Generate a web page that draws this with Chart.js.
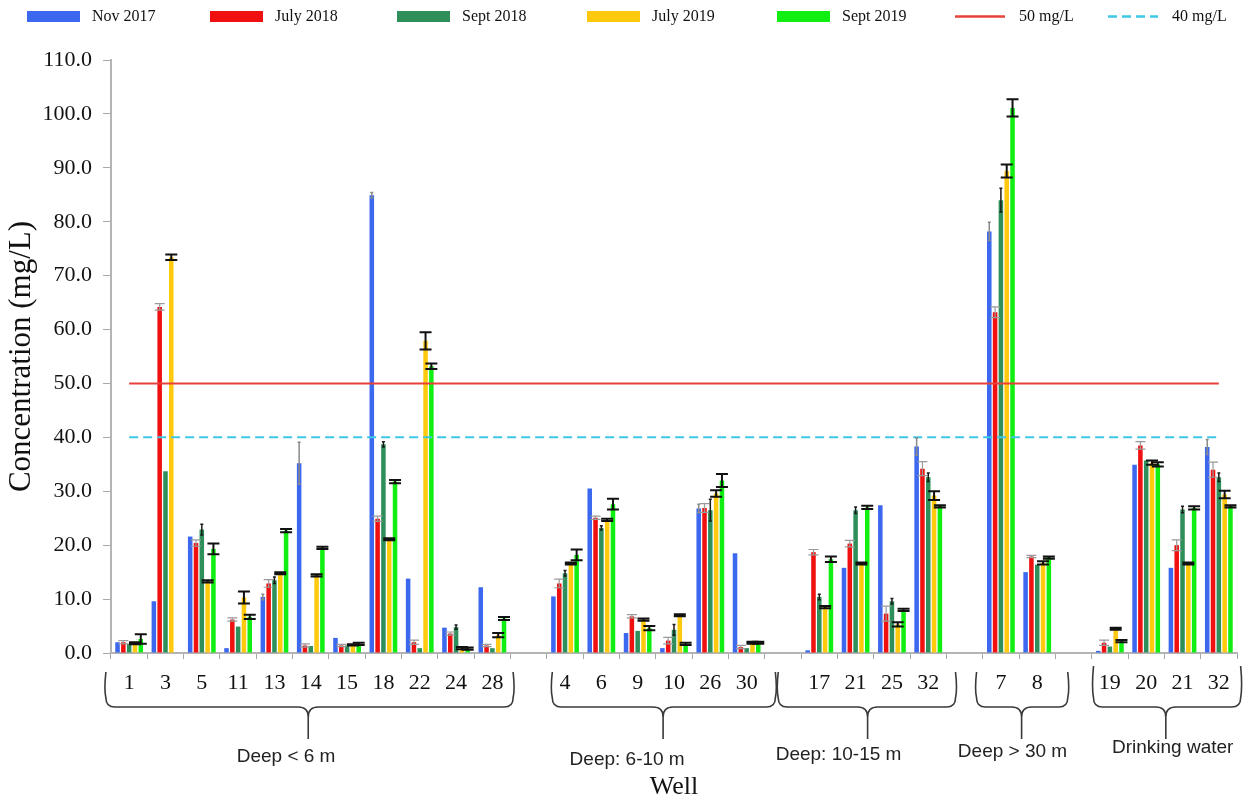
<!DOCTYPE html>
<html><head><meta charset="utf-8">
<script src="https://cdn.jsdelivr.net/npm/chart.js@4.4.1/dist/chart.umd.min.js"></script>
<style>html,body{margin:0;padding:0;background:#fff;}#wrap{width:1244px;height:805px;position:relative;}</style>
</head><body><div id="wrap"><canvas id="c" width="1244" height="805"></canvas></div>
<script>
// ---------- data ----------
const categories = ['1','3','5','11','13','14','15','18','22','24','28','',
  '4','6','9','10','26','30','',
  '17','21','25','32','',
  '7','8','',
  '19','20','21','32'];
const seriesNames = ['Nov 2017','July 2018','Sept 2018','July 2019','Sept 2019'];
const nov2017  = [2.0, 9.6,21.6, 0.9,10.4,35.2, 2.8,84.9,13.8, 4.7,12.2,null, 10.5,30.5, 3.7, 0.9,26.8,18.5,null,  0.5,15.8,27.4,38.3,null, 78.2,15.0,null,  0.4,34.9,15.8,38.2];
const july2018 = [2.0,64.2,20.4, 6.2,12.9, 1.4, 1.4,24.9, 2.0, 3.6, 1.4,null, 12.9,25.1, 6.8, 2.3,26.9, 1.1,null, 18.7,20.3, 7.3,34.2,null, 63.2,17.9,null,  1.9,38.5,20.0,34.0];
const sept2018 = [1.7,33.7,22.9, 4.9,13.5, 1.3, 1.4,38.7, 0.9, 4.8, 0.9,null, 14.8,23.2, 4.1, 4.3,26.5, 0.9,null, 10.4,26.5, 9.6,32.6,null, 84.0,16.4,null,  1.2,35.7,26.6,32.6];
const july2019 = [1.8,73.4,13.3,10.3,14.8,14.4, 1.5,21.1,57.9, 0.9, 3.3,null, 16.6,24.7, 6.2, 7.0,29.6, 1.9,null,  8.5,16.6, 5.3,29.2,null, 89.4,16.7,null,  4.5,35.3,16.6,29.4];
const sept2019 = [2.6,null,19.3, 6.7,22.7,19.5, 1.7,31.8,53.2, 0.8, 6.4,null, 18.2,27.6, 4.6, 1.7,32.0, 1.9,null, 17.4,27.0, 8.0,27.2,null,101.1,17.7,null,  2.2,35.0,26.9,27.2];
const errNov2017  = [0,0,0,0,0.5,3.9,0,0.5,0,0,0,null, 0,0,0,0,0.8,0,null, 0,0,0,1.6,null, 1.7,0,null, 0,0,0,1.4];
const errJuly2018 = [0.3,0.6,0.6,0.3,0.7,0.3,0.2,0.5,0.4,0.3,0.2,null, 0.8,0.3,0.3,0.6,0.8,0.3,null, 0.5,0.6,1.4,1.3,null, 1.0,0.2,null, 0.5,0.7,1.0,1.4];
const errSept2018 = [0,0,1.0,0,0.6,0,0,0.5,0,0.4,0,null, 0.5,0.4,0,1.0,2.0,0,null, 0.5,0.6,0.5,0.8,null, 2.2,0,null, 0,0,0.6,0.8];
const errJuly2019 = [0.2,0.5,0.2,1.1,0.2,0.2,0.1,0.2,1.6,0.2,0.4,null, 0.2,0.2,0.2,0.2,0.6,0.2,null, 0.2,0.2,0.4,0.8,null, 1.2,0.3,null, 0.2,0.4,0.2,0.7];
const errSept2019 = [0.9,null,1.0,0.4,0.3,0.2,0.2,0.3,0.5,0.2,0.3,null, 1.0,1.0,0.4,0.2,1.2,0.2,null, 0.5,0.3,0.2,0.2,null, 1.6,0.2,null, 0.2,0.4,0.3,0.2];
const refLineNames = ['50 mg/L','40 mg/L'];
const refLineValues = [50, 40];
const yTickLabels = ['0.0','10.0','20.0','30.0','40.0','50.0','60.0','70.0','80.0','90.0','100.0','110.0'];
const groupNames = ['Deep < 6 m','Deep: 6-10 m','Deep: 10-15 m','Deep > 30 m','Drinking water'];

// ---------- styles ----------
const barColors = ['#3b68ee','#f01010','#2f8f5b','#ffc90e','#11ee11'];
const lineColors = ['#e8413c','#3cc8e6'];
const lineDashes = [[],[9,5]];
const errStyles = [
  {color:'#8a8a8a', width:1.5, cap:1.5},
  {color:'#9a9a9a', width:1.2, cap:5},
  {color:'#1a1a1a', width:1.5, cap:1.5},
  {color:'#111111', width:2, cap:6},
  {color:'#111111', width:2, cap:6}
];
const legendX = [27,210,397,587,777,955,1108];
// bracket layout in category units (0 = left edge of first category)
const bracketLayout = [
  {l:-0.14, r:11.07, n:5.43, top:672, tx:4.82, ty:757},
  {l:12.15, r:18.29, n:15.2, top:672, tx:14.21, ty:760},
  {l:18.37, r:23.25, n:20.83, top:672, tx:20.03, ty:755},
  {l:23.83, r:26.34, n:25.07, top:672, tx:24.82, ty:752},
  {l:27.05, r:31.1, n:29.04, top:666, tx:29.23, ty:748}
];
const serif = '"Liberation Serif","Times New Roman",serif';
const groupFont = '19px "Liberation Sans","Arial",sans-serif';

const seriesValues = [nov2017, july2018, sept2018, july2019, sept2019];
const seriesErrors = [errNov2017, errJuly2018, errSept2018, errJuly2019, errSept2019];

const datasets = [];
refLineValues.forEach((v,i)=>{
  datasets.push({type:'line', label:refLineNames[i], data:categories.map(()=>v),
    borderColor:lineColors[i], borderWidth:2, borderDash:lineDashes[i], pointRadius:0, fill:false, order:1});
});
seriesNames.forEach((n,i)=>{
  datasets.push({type:'bar', label:n, data:seriesValues[i], backgroundColor:barColors[i], borderWidth:0,
    barPercentage:0.78, categoryPercentage:0.8, order:2, errors:seriesErrors[i], errIndex:i});
});

const errorBarPlugin = {
  id:'errorBars',
  afterDatasetsDraw(chart){
    const ctx = chart.ctx, y = chart.scales.y;
    chart.data.datasets.forEach((ds, di)=>{
      if (!ds.errors) return;
      const meta = chart.getDatasetMeta(di);
      const st = errStyles[ds.errIndex];
      meta.data.forEach((bar, j)=>{
        const v = ds.data[j], e = ds.errors[j];
        if (v == null || e == null || e <= 0) return;
        const yt = y.getPixelForValue(v + e), yb = y.getPixelForValue(Math.max(0, v - e));
        ctx.save();
        ctx.strokeStyle = st.color; ctx.lineWidth = st.width;
        ctx.beginPath();
        ctx.moveTo(bar.x, yt); ctx.lineTo(bar.x, yb);
        ctx.moveTo(bar.x - st.cap, yt); ctx.lineTo(bar.x + st.cap, yt);
        ctx.moveTo(bar.x - st.cap, yb); ctx.lineTo(bar.x + st.cap, yb);
        ctx.stroke();
        ctx.restore();
      });
    });
  }
};

const legendPlugin = {
  id:'customLegend',
  afterDraw(chart){
    const ctx = chart.ctx;
    ctx.save();
    ctx.font = '16px ' + serif;
    ctx.textBaseline = 'middle';
    ctx.fillStyle = '#111';
    const items = seriesNames.map((n,i)=>({name:n, kind:'bar', color:barColors[i]}))
      .concat(refLineNames.map((n,i)=>({name:n, kind:'line', color:lineColors[i], dash:lineDashes[i]})));
    const cy = 16.5;
    items.forEach((it, k)=>{
      const x = legendX[k];
      if (it.kind === 'bar') {
        ctx.fillStyle = it.color;
        ctx.fillRect(x, cy - 5.5, 53, 11);
        ctx.fillStyle = '#111';
        ctx.fillText(it.name, x + 65, cy);
      } else {
        ctx.strokeStyle = it.color; ctx.lineWidth = 2.5; ctx.setLineDash(it.dash);
        ctx.beginPath(); ctx.moveTo(x, cy); ctx.lineTo(x + 50, cy); ctx.stroke();
        ctx.setLineDash([]);
        ctx.fillStyle = '#111';
        ctx.fillText(it.name, x + 64, cy);
      }
    });
    ctx.restore();
  }
};

const bracketPlugin = {
  id:'brackets',
  afterDraw(chart){
    const ctx = chart.ctx, xs = chart.scales.x;
    const px = u => xs.getPixelForValue(u - 0.5);
    ctx.save();
    ctx.strokeStyle = '#3a3a3a'; ctx.lineWidth = 1.6;
    const hy = 707, bottom = 739, r = 9, rn = 10;
    bracketLayout.forEach((b, g)=>{
      const L = px(b.l), R = px(b.r), N = px(b.n);
      ctx.beginPath();
      ctx.moveTo(L, b.top);
      ctx.quadraticCurveTo(L - 2, (b.top + hy)/2, L, hy - r);
      ctx.quadraticCurveTo(L, hy, L + r, hy);
      ctx.lineTo(N - rn, hy);
      ctx.quadraticCurveTo(N, hy, N, hy + rn);
      ctx.lineTo(N, bottom);
      ctx.moveTo(N, hy + rn);
      ctx.quadraticCurveTo(N, hy, N + rn, hy);
      ctx.lineTo(R - r, hy);
      ctx.quadraticCurveTo(R, hy, R, hy - r);
      ctx.quadraticCurveTo(R + 2, (b.top + hy)/2, R, b.top);
      ctx.stroke();
      ctx.fillStyle = '#222';
      ctx.font = groupFont;
      ctx.textAlign = 'center'; ctx.textBaseline = 'middle';
      ctx.fillText(groupNames[g], px(b.tx), b.ty);
    });
    ctx.restore();
  }
};

new Chart(document.getElementById('c'), {
  type:'bar',
  data:{labels:categories, datasets:datasets},
  options:{
    responsive:false, animation:false, devicePixelRatio:1,
    layout:{padding:{top:60, right:7, left:0, bottom:0}},
    plugins:{legend:{display:false}, tooltip:{enabled:false}},
    scales:{
      x:{
        grid:{display:true, drawOnChartArea:false, drawTicks:true, tickLength:6, color:'#a8a8a8', offset:true},
        border:{color:'#b4b4b4', width:2},
        ticks:{font:{family:serif, size:22}, color:'#111', padding:11, maxRotation:0, autoSkip:false},
        title:{display:true, text:'Well', font:{family:serif, size:26}, color:'#111', padding:{top:0, bottom:2}},
        afterFit(s){ s.height = 152; }
      },
      y:{
        min:0, max:110,
        ticks:{stepSize:10, font:{family:serif, size:22}, color:'#111', padding:11,
          callback:(v,i)=>yTickLabels[i]},
        grid:{display:true, drawOnChartArea:false, tickLength:8, color:'#a8a8a8'},
        border:{color:'#b4b4b4', width:2},
        title:{display:true, text:'Concentration (mg/L)', font:{family:serif, size:31}, color:'#111', padding:{top:3, bottom:2}},
        afterFit(s){ s.width = 111; }
      }
    }
  },
  plugins:[errorBarPlugin, legendPlugin, bracketPlugin]
});
</script></body></html>
